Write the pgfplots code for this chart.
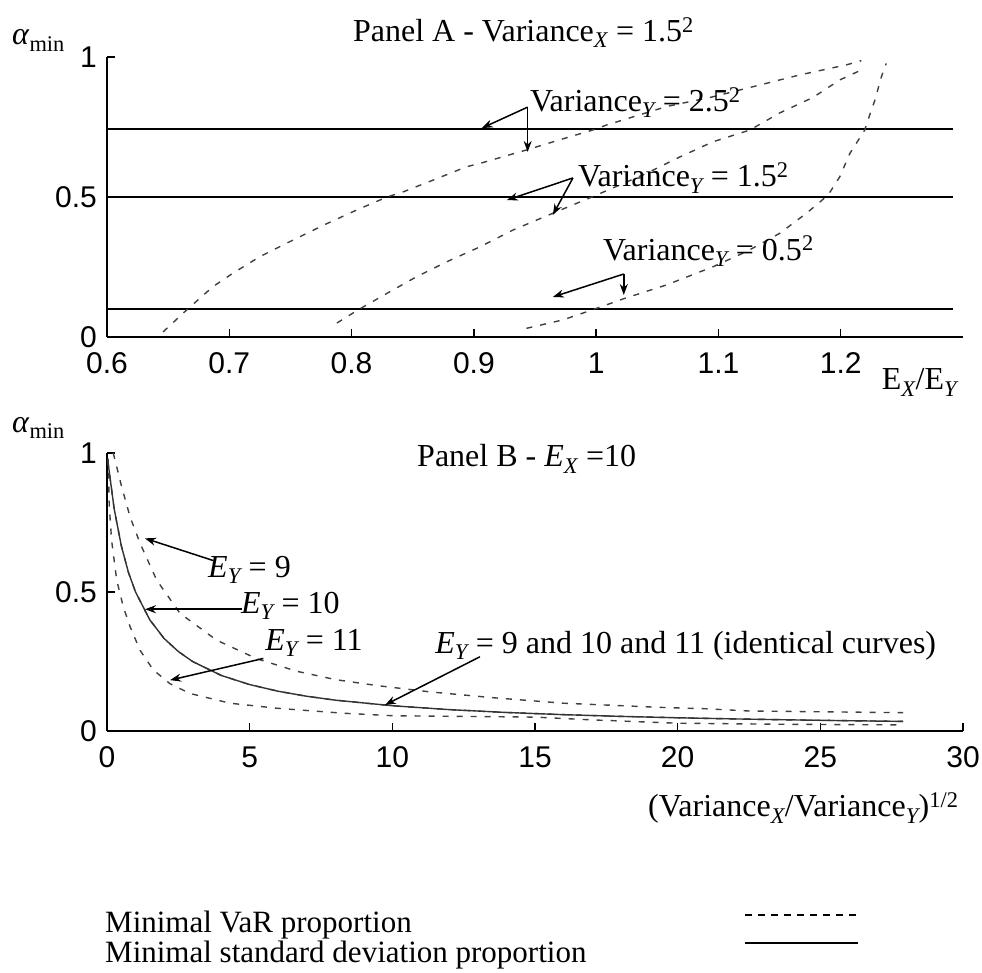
\documentclass[border=0pt]{standalone}
\usepackage{fontspec}
\setmainfont{Liberation Serif}
\newfontfamily\arial{Liberation Sans}
\usepackage{pgfplots}
\pgfplotsset{compat=1.18}
\usetikzlibrary{arrows.meta}

\newcommand{\sub}[1]{\textsubscript{\itshape #1}}
\newcommand{\amin}{\textit{α}\textsubscript{min}}

\tikzset{
  var/.style={line width=1.4pt, black!75, dash pattern=on 6pt off 8pt},
  sd/.style={line width=1.4pt, black!80},
  hl/.style={line width=1.6pt, black},
  ann/.style={line width=1.5pt, -{Stealth[length=11pt,width=8pt]}},
  lbl/.style={anchor=base west, inner sep=0pt, font=\fontsize{32}{36}\selectfont},
  leg/.style={anchor=base west, inner sep=0pt, font=\fontsize{31}{34}\selectfont},
}
\pgfplotsset{
  panel/.style={
    scale only axis,
    anchor=south west,
    axis x line=bottom, axis y line=left,
    axis line style={-, line width=1.6pt},
    tick align=inside,
    major tick length=8pt,
    every tick/.style={black, line width=1.5pt},
    ymin=0, ymax=1,
    ytick={0,0.5,1}, yticklabels={0,0.5,1},
    tick label style={font=\arial\fontsize{30}{30}\selectfont, inner sep=1pt,
      text height=21.5pt, text depth=0pt},
    xticklabel style={yshift=-14pt},
    yticklabel style={xshift=-9pt},
    /pgf/number format/assume math mode=true,
    clip=false,
  },
}

\begin{document}
\begin{tikzpicture}
\path[use as bounding box] (0pt,0pt) rectangle (982pt,-972pt);

% Panel A
\begin{axis}[panel,
  at={(107pt,-337pt)},
  width=856pt, height=280pt,
  xmin=0.6, xmax=1.3,
  xtick={0.6,0.7,0.8,0.9,1,1.1,1.2},
  xticklabels={0.6,0.7,0.8,0.9,1,1.1,1.2},
]
\addplot[hl] coordinates {(0.6,0.743) (1.2916,0.743)};
\addplot[hl] coordinates {(0.6,0.5) (1.2916,0.5)};
\addplot[hl] coordinates {(0.6,0.1) (1.2916,0.1)};

% Variance_Y = 2.5^2
\addplot[var] coordinates {
(0.6458,0.018) (0.665,0.096) (0.6867,0.18) (0.703,0.228) (0.725,0.287)
(0.752,0.346) (0.7798,0.405) (0.8044,0.454) (0.829,0.5) (0.842,0.518)
(0.867,0.561) (0.894,0.608) (0.905,0.62) (0.943,0.668) (0.970,0.704)
(0.997,0.739) (1.0085,0.757) (1.0575,0.823) (1.0956,0.858) (1.1228,0.888)
(1.1665,0.936) (1.2047,0.972) (1.2169,0.987)};
% Variance_Y = 1.5^2
\addplot[var] coordinates {
(0.788,0.05) (0.805,0.096) (0.829,0.156) (0.853,0.215) (0.878,0.269)
(0.905,0.322) (0.932,0.382) (0.9646,0.442) (0.9965,0.5) (1.0194,0.543)
(1.0414,0.585) (1.0684,0.643) (1.0954,0.697) (1.1256,0.739) (1.150,0.8)
(1.1771,0.855) (1.1992,0.918) (1.2155,0.951)};
% Variance_Y = 0.5^2
\addplot[var] coordinates {
(0.943,0.031) (0.9728,0.061) (0.9962,0.096) (1.0234,0.138) (1.0575,0.186)
(1.0956,0.251) (1.1229,0.305) (1.150,0.37) (1.172,0.442) (1.1897,0.507)
(1.1992,0.572) (1.2074,0.655) (1.2196,0.739) (1.2237,0.793) (1.2286,0.854)
(1.232,0.912) (1.236,0.965) (1.2373,0.977)};

\node[lbl] at (axis cs:0.5223,1.043) {\amin};
\node[lbl] at (axis cs:0.8011,1.054) {Panel A - Variance\sub{X} = 1.5\textsuperscript{2}};
\node[lbl] at (axis cs:1.2335,-0.189) {E\sub{X}/E\sub{Y}};

\node[lbl] at (axis cs:0.9458,0.804) {Variance\sub{Y} = 2.5\textsuperscript{2}};
\draw[ann] (axis cs:0.944,0.821) -- (axis cs:0.9065,0.746);
\draw[ann] (axis cs:0.944,0.821) -- (axis cs:0.944,0.661);

\node[lbl] at (axis cs:0.985,0.536) {Variance\sub{Y} = 1.5\textsuperscript{2}};
\draw[ann] (axis cs:0.981,0.568) -- (axis cs:0.927,0.489);
\draw[ann] (axis cs:0.981,0.568) -- (axis cs:0.9646,0.436);

\node[lbl] at (axis cs:1.0055,0.275) {Variance\sub{Y} = 0.5\textsuperscript{2}};
\draw[ann] (axis cs:1.0226,0.225) -- (axis cs:0.9646,0.143);
\draw[ann] (axis cs:1.0226,0.225) -- (axis cs:1.0226,0.15);
\end{axis}

% Panel B
\begin{axis}[panel,
  at={(107pt,-731pt)},
  width=856pt, height=278pt,
  xmin=0, xmax=30,
  xtick={0,5,10,15,20,25,30},
  xticklabels={0,5,10,15,20,25,30},
]
% E_Y = 9
\addplot[var] coordinates {
(0.22,1.0) (0.51,0.88) (0.81,0.77) (1.16,0.675) (1.74,0.543) (2.56,0.423)
(3.84,0.327) (5.25,0.26) (6.65,0.215) (8.0,0.185) (9.5,0.163) (11.3,0.141)
(13.5,0.12) (16,0.1) (19.4,0.085) (21,0.08) (22.5,0.072) (27.9,0.066)};
% E_Y = 10
\addplot[var] coordinates {
(0.03,0.971) (0.25,0.8) (0.5,0.667) (0.75,0.571) (1,0.5) (1.5,0.4) (2,0.333)
(2.5,0.286) (3,0.25) (4,0.2) (5,0.167) (6,0.143) (7,0.125) (8,0.111)
(10,0.0909) (12,0.0769) (14,0.0667) (16,0.0588) (18,0.0526) (20,0.0476)
(22,0.0435) (24,0.04) (26,0.037) (27.9,0.0346)};
% E_Y = 11
\addplot[var] coordinates {
(0.04,0.98) (0.08,0.81) (0.16,0.687) (0.34,0.543) (0.57,0.447) (0.81,0.375)
(1.16,0.29) (1.62,0.22) (2.21,0.17) (2.91,0.135) (4.31,0.1) (5.95,0.082)
(8.28,0.064) (10,0.055) (15,0.05) (17,0.04) (20,0.028) (24,0.024) (27.9,0.022)};
% minimal standard deviation proportion, identical for all E_Y
\addplot[sd] coordinates {
(0.03,0.971) (0.25,0.8) (0.5,0.667) (0.75,0.571) (1,0.5) (1.5,0.4) (2,0.333)
(2.5,0.286) (3,0.25) (4,0.2) (5,0.167) (6,0.143) (7,0.125) (8,0.111)
(10,0.0909) (12,0.0769) (14,0.0667) (16,0.0588) (18,0.0526) (20,0.0476)
(22,0.0435) (24,0.04) (26,0.037) (27.9,0.0346)};

\node[lbl] at (axis cs:-3.33,1.0755) {\amin};
\node[lbl] at (axis cs:10.866,0.95) {Panel B - \textit{E}\sub{X} =10};

\node[lbl] at (axis cs:3.54,0.554) {\textit{E}\sub{Y} = 9};
\draw[ann] (axis cs:3.73,0.613) -- (axis cs:1.33,0.693);
\node[lbl] at (axis cs:4.69,0.423) {\textit{E}\sub{Y} = 10};
\draw[ann] (axis cs:4.72,0.438) -- (axis cs:1.33,0.438);
\node[lbl] at (axis cs:5.54,0.291) {\textit{E}\sub{Y} = 11};
\draw[ann] (axis cs:5.48,0.261) -- (axis cs:2.21,0.183);
\node[lbl] at (axis cs:11.5,0.279) {\textit{E}\sub{Y} = 9 and 10 and 11 (identical curves)};
\draw[ann] (axis cs:13.07,0.267) -- (axis cs:9.74,0.0935);

\node[lbl] at (axis cs:18.96,-0.309) {(Variance\sub{X}/Variance\sub{Y})\textsuperscript{1/2}};

% legend
\node[leg] at (axis cs:-0.07,-0.723) {Minimal VaR proportion};
\node[leg] at (axis cs:-0.07,-0.834) {Minimal standard deviation proportion};
\draw[line width=1.4pt, dash pattern=on 7pt off 6pt] (axis cs:22.36,-0.662) -- (axis cs:26.32,-0.662);
\draw[line width=1.8pt] (axis cs:22.36,-0.763) -- (axis cs:26.32,-0.763);
\end{axis}
\end{tikzpicture}
\end{document}
